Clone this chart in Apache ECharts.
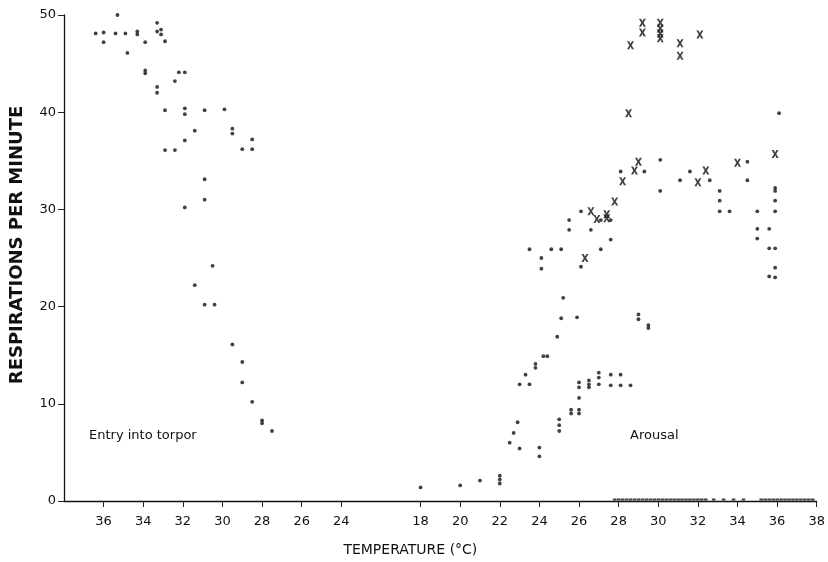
<!DOCTYPE html>
<html>
<head>
<meta charset="utf-8">
<script src="https://cdn.jsdelivr.net/npm/echarts@6/dist/echarts.min.js"></script>
<style>
  html, body { margin: 0; padding: 0; background: #fff; }
  #chart { width: 828px; height: 562px; }
</style>
</head>
<body>
<div id="chart"></div>
<script>
// temperature (°C), respirations per minute
const entryTorpor = [
  [35.3, 50.0], [36.4, 48.1], [36.0, 48.2], [35.4, 48.1], [34.9, 48.1], [34.3, 48.3], [34.3, 48.0],
  [33.3, 49.2], [33.3, 48.3], [33.1, 48.5], [33.1, 48.0], [36.0, 47.2], [33.9, 47.2], [32.9, 47.3],
  [34.8, 46.1], [33.9, 44.3], [33.9, 44.0], [32.2, 44.1], [31.9, 44.1], [32.4, 43.2], [33.3, 42.6],
  [33.3, 42.0], [32.9, 40.2], [31.9, 40.4], [31.9, 39.8], [30.9, 40.2], [29.9, 40.3], [31.4, 38.1],
  [29.5, 38.3], [29.5, 37.8], [28.5, 37.2], [29.0, 36.2], [28.5, 36.2], [31.9, 37.1], [32.9, 36.1],
  [32.4, 36.1], [30.9, 33.1], [30.9, 31.0], [31.9, 30.2], [30.5, 24.2], [31.4, 22.2], [30.9, 20.2],
  [30.4, 20.2], [29.5, 16.1], [29.0, 14.3], [29.0, 12.2], [28.5, 10.2], [28.0, 8.3], [28.0, 8.0],
  [27.5, 7.2]
];
const arousalDots = [
  [18.0, 1.4], [20.0, 1.6], [21.0, 2.1], [22.0, 2.6], [22.0, 2.2], [22.0, 1.8], [22.5, 6.0],
  [22.7, 7.0], [22.9, 8.1], [23.0, 5.4], [24.0, 5.5], [24.0, 4.6], [23.0, 12.0], [23.5, 12.0],
  [23.3, 13.0], [23.8, 14.1], [23.8, 13.7], [24.2, 14.9], [24.4, 14.9], [24.9, 16.9], [25.1, 18.8],
  [25.9, 18.9], [25.2, 20.9], [23.5, 25.9], [24.6, 25.9], [25.1, 25.9], [24.1, 25.0], [24.1, 23.9],
  [26.1, 24.1], [25.5, 28.9], [25.5, 27.9], [26.1, 29.8], [26.6, 27.9], [27.1, 28.9], [27.6, 28.9],
  [27.6, 26.9], [27.1, 25.9], [25.0, 8.4], [25.0, 7.8], [25.0, 7.2], [25.6, 9.4], [25.6, 9.0],
  [26.0, 9.4], [26.0, 9.0], [26.0, 10.6], [26.0, 12.2], [26.0, 11.7], [26.5, 12.4], [26.5, 12.0],
  [26.5, 11.7], [27.0, 13.2], [27.0, 12.7], [27.0, 12.0], [27.6, 13.0], [27.6, 11.9], [28.1, 13.0],
  [28.1, 11.9], [28.6, 11.9], [29.0, 19.2], [29.0, 18.7], [29.5, 18.1], [29.5, 17.8], [28.1, 33.9],
  [29.3, 33.9], [30.1, 35.1], [30.1, 31.9], [31.1, 33.0], [31.6, 33.9], [32.6, 33.0], [33.1, 31.9],
  [33.1, 30.9], [33.1, 29.8], [33.6, 29.8], [34.5, 34.9], [34.5, 33.0], [35.0, 29.8], [35.0, 28.0],
  [35.0, 27.0], [35.6, 28.0], [35.6, 26.0], [35.9, 26.0], [35.9, 32.2], [35.9, 31.9], [35.9, 30.9],
  [35.9, 29.8], [35.9, 24.0], [35.6, 23.1], [35.9, 23.0], [36.1, 39.9]
];
const arousalCrosses = [
  [29.2, 49.2], [29.2, 48.2], [28.6, 46.9], [30.1, 49.2], [30.1, 48.6], [30.1, 48.1], [30.1, 47.6],
  [31.1, 47.1], [31.1, 45.8], [32.1, 48.0], [28.5, 39.9], [35.9, 35.7], [34.0, 34.8], [29.0, 34.9],
  [28.8, 34.0], [32.4, 34.0], [28.2, 32.9], [32.0, 32.8], [27.8, 30.8], [26.6, 29.8], [26.9, 29.0],
  [27.4, 29.5], [27.4, 29.1], [26.3, 25.0]
];
// arousal readings of zero along the baseline
const arousalZeros = [
  27.8, 28.0, 28.2, 28.4, 28.6, 28.8, 29.0, 29.2, 29.4, 29.6, 29.8, 30.0, 30.2, 30.4, 30.6, 30.8,
  31.0, 31.2, 31.4, 31.6, 31.8, 32.0, 32.2, 32.4, 32.8, 33.3, 33.8, 34.3, 35.2, 35.4, 35.6, 35.8,
  36.0, 36.2, 36.4, 36.6, 36.8, 37.0, 37.2, 37.4, 37.6, 37.8
];
const leftTicks = [36, 34, 32, 30, 28, 26, 24];
const rightTicks = [18, 20, 22, 24, 26, 28, 30, 32, 34, 36, 38];
const yTicks = [0, 10, 20, 30, 40, 50];

// broken x axis: left part runs 38 -> 24 (reversed), right part 18 -> 38
const leftPos = t => 38 - t;
const rightPos = t => t;

const tickPos = leftTicks.map(leftPos).concat(rightTicks.map(rightPos));
const labelFor = {};
leftTicks.forEach(t => { labelFor[leftPos(t)] = String(t); });
rightTicks.forEach(t => { labelFor[rightPos(t)] = String(t); });

const crossPath = 'path://M0,0L3,0L5,3.2L7,0L10,0L6.6,5L10,10L7,10L5,6.8L3,10L0,10L3.4,5Z';
const font = 'DejaVu Sans';

const chart = echarts.init(document.getElementById('chart'));
chart.setOption({
  backgroundColor: '#fff',
  animation: false,
  grid: { left: 64, right: 11, top: 15, bottom: 55 },
  xAxis: {
    type: 'value',
    min: 0,
    max: 38,
    name: 'TEMPERATURE (°C)',
    nameLocation: 'middle',
    nameGap: 42,
    nameTextStyle: { color: '#111', fontFamily: font, fontSize: 14, padding: [0, 60, 0, 0] },
    axisLine: { lineStyle: { color: '#111', width: 1.3 } },
    axisTick: { show: true, customValues: tickPos, length: 6, lineStyle: { color: '#222', width: 1 } },
    axisLabel: {
      customValues: tickPos,
      formatter: v => labelFor[v] || '',
      color: '#111', fontFamily: font, fontSize: 13, margin: 14
    },
    splitLine: { show: false }
  },
  yAxis: {
    type: 'value',
    min: 0,
    max: 50,
    interval: 10,
    name: 'RESPIRATIONS PER MINUTE',
    nameLocation: 'middle',
    nameGap: 38,
    nameTextStyle: { color: '#111', fontFamily: font, fontSize: 18, fontWeight: 'bold', padding: [0, 0, 0, 26] },
    axisLine: { show: true, lineStyle: { color: '#111', width: 1.3 } },
    axisTick: { show: true, customValues: yTicks, length: 6, lineStyle: { color: '#222' } },
    axisLabel: { color: '#111', fontFamily: font, fontSize: 13, margin: 8 },
    splitLine: { show: false }
  },
  graphic: [
    { type: 'text', left: 89, top: 429, style: { text: 'Entry into torpor', fill: '#111', font: '13px "DejaVu Sans"' } },
    { type: 'text', left: 630, top: 429, style: { text: 'Arousal', fill: '#111', font: '13px "DejaVu Sans"' } }
  ],
  series: [
    {
      name: 'Entry into torpor',
      type: 'scatter',
      symbol: 'circle',
      symbolSize: 3.8,
      itemStyle: { color: '#111' },
      data: entryTorpor.map(d => [leftPos(d[0]), d[1]])
    },
    {
      name: 'Arousal',
      type: 'scatter',
      symbol: 'circle',
      symbolSize: 3.8,
      itemStyle: { color: '#111' },
      data: arousalDots.map(d => [rightPos(d[0]), d[1]])
    },
    {
      name: 'Arousal (x)',
      type: 'scatter',
      symbol: crossPath,
      symbolSize: [7, 8],
      itemStyle: { color: '#111' },
      data: arousalCrosses.map(d => [rightPos(d[0]), d[1]])
    },
    {
      name: 'Arousal zero',
      type: 'scatter',
      symbol: 'rect',
      symbolSize: [3.6, 2],
      symbolOffset: [0, -1.5],
      clip: false,
      itemStyle: { color: '#111' },
      data: arousalZeros.map(t => [rightPos(t), 0])
    }
  ]
});
</script>
</body>
</html>
